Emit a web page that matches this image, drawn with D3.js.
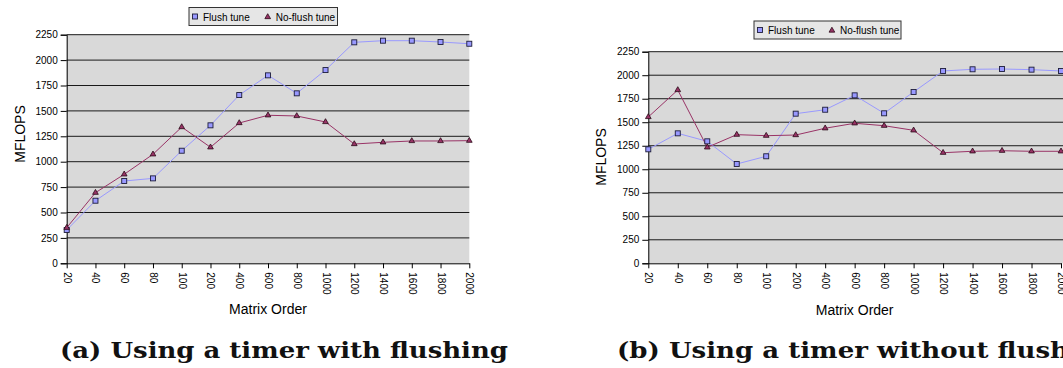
<!DOCTYPE html>
<html>
<head>
<meta charset="utf-8">
<script src="https://cdn.jsdelivr.net/npm/d3@7"></script>
<style>
  body { margin: 0; background: #fff; }
  svg { display: block; }
  text { font-family: "Liberation Sans", Arial, sans-serif; }
  text.caption { font-family: "DejaVu Serif", "Liberation Serif", serif; font-weight: bold; }
</style>
</head>
<body>
<svg id="chart" width="1063" height="368"></svg>
<script>
// matrix orders on the x axis
var categories = ["20", "40", "60", "80", "100", "200", "400", "600", "800", "1000", "1200", "1400", "1600", "1800", "2000"];
var yTicks = [0, 250, 500, 750, 1000, 1250, 1500, 1750, 2000, 2250];
var seriesNames = ["Flush tune", "No-flush tune"];

// (a) timer with flushing
var flushA = [328, 616, 810, 836, 1108, 1358, 1656, 1850, 1673, 1902, 2175, 2191, 2191, 2178, 2161];
var noFlushA = [350, 695, 876, 1073, 1341, 1142, 1381, 1457, 1450, 1391, 1174, 1191, 1204, 1204, 1207];

// (b) timer without flushing
var flushB = [1212, 1382, 1297, 1056, 1138, 1591, 1633, 1786, 1595, 1822, 2045, 2063, 2066, 2059, 2045];
var noFlushB = [1556, 1843, 1233, 1368, 1357, 1364, 1436, 1489, 1463, 1414, 1176, 1191, 1197, 1191, 1191];

var flushColor = "#9999ff";
var noFlushColor = "#993366";
var svg = d3.select("#chart");

//Draws one panel: plot area, grid, axes, two series, legend and caption
function drawPanel(cfg) {
    var x = d3.scalePoint()
        .domain(categories)
        .range([cfg.x0, cfg.x1])
        .padding(0);

    var y = d3.scaleLinear()
        .domain([0, 2250])
        .range([cfg.y0, cfg.y1]);

    var g = svg.append("g");

    g.append("rect")
        .attr("x", cfg.x0)
        .attr("y", y(2250))
        .attr("width", cfg.bgRight - cfg.x0)
        .attr("height", y(0) - y(2250))
        .attr("fill", "#d9d9d9");

    g.selectAll(".grid")
        .data(yTicks.slice(1))
        .enter().append("line")
        .attr("x1", cfg.x0)
        .attr("x2", cfg.bgRight)
        .attr("y1", function (d) { return y(d); })
        .attr("y2", function (d) { return y(d); })
        .attr("stroke", "#1a1a1a")
        .attr("stroke-width", 1);

    var yAxis = g.append("g")
        .attr("transform", "translate(" + cfg.x0 + ",0)")
        .call(d3.axisLeft(y).tickValues(yTicks).tickSize(6).tickPadding(3).tickFormat(d3.format("d")));
    yAxis.select(".domain").attr("stroke", "#000");
    yAxis.selectAll("text")
        .style("font-size", "10px")
        .attr("fill", "#000");

    var xAxis = g.append("g")
        .attr("transform", "translate(0," + cfg.y0 + ")")
        .call(d3.axisBottom(x).tickSize(5).tickSizeOuter(0));
    xAxis.select(".domain").attr("stroke", "#000");
    xAxis.selectAll("text")
        .style("font-size", "10px")
        .attr("fill", "#000")
        .attr("text-anchor", "start")
        .attr("transform", "rotate(90)")
        .attr("x", 9)
        .attr("y", 0)
        .attr("dy", "0.35em");

    var line = d3.line()
        .x(function (d, i) { return x(categories[i]); })
        .y(function (d) { return y(d); });

    g.append("path")
        .datum(cfg.flush)
        .attr("d", line)
        .attr("fill", "none")
        .attr("stroke", flushColor)
        .attr("stroke-width", 1);

    g.append("path")
        .datum(cfg.noFlush)
        .attr("d", line)
        .attr("fill", "none")
        .attr("stroke", noFlushColor)
        .attr("stroke-width", 1);

    g.selectAll(".sq")
        .data(cfg.flush)
        .enter().append("rect")
        .attr("x", function (d, i) { return x(categories[i]) - 2.5; })
        .attr("y", function (d) { return y(d) - 2.5; })
        .attr("width", 5)
        .attr("height", 5)
        .attr("fill", flushColor)
        .attr("stroke", "#1c1c3a")
        .attr("stroke-width", 0.9);

    var tri = d3.symbol().type(d3.symbolTriangle).size(14);
    g.selectAll(".tri")
        .data(cfg.noFlush)
        .enter().append("path")
        .attr("d", tri)
        .attr("transform", function (d, i) { return "translate(" + x(categories[i]) + "," + y(d) + ")"; })
        .attr("fill", noFlushColor)
        .attr("stroke", "#2a0a18")
        .attr("stroke-width", 0.8);

    g.append("text")
        .attr("transform", "translate(" + cfg.yLabelX + "," + cfg.yLabelY + ") rotate(-90)")
        .attr("text-anchor", "middle")
        .attr("dy", "0.35em")
        .style("font-size", "14px")
        .text("MFLOPS");

    g.append("text")
        .attr("x", (cfg.x0 + cfg.x1) / 2)
        .attr("y", cfg.xLabelY)
        .attr("text-anchor", "middle")
        .style("font-size", "14px")
        .text("Matrix Order");

    // legend
    var lg = g.append("g").attr("transform", "translate(" + cfg.legX + "," + cfg.legY + ")");
    lg.append("rect")
        .attr("width", cfg.legW)
        .attr("height", 18)
        .attr("fill", "#e6e6e6")
        .attr("stroke", "#333")
        .attr("stroke-width", 1);
    lg.append("rect")
        .attr("x", 3.5).attr("y", 6.5)
        .attr("width", 5).attr("height", 5)
        .attr("fill", flushColor)
        .attr("stroke", "#1c1c3a")
        .attr("stroke-width", 0.9);
    lg.append("text")
        .attr("x", 14).attr("y", 13)
        .style("font-size", "10px")
        .text(seriesNames[0]);
    lg.append("path")
        .attr("d", tri)
        .attr("transform", "translate(" + (cfg.legW * 0.53) + ",9.5)")
        .attr("fill", noFlushColor)
        .attr("stroke", "#2a0a18")
        .attr("stroke-width", 0.8);
    lg.append("text")
        .attr("x", cfg.legW * 0.53 + 8).attr("y", 13)
        .style("font-size", "10px")
        .text(seriesNames[1]);

    // caption is set wide, like the bold extended TeX face
    svg.append("text")
        .attr("class", "caption")
        .attr("x", cfg.capX)
        .attr("y", 358)
        .attr("textLength", cfg.capW)
        .attr("lengthAdjust", "spacingAndGlyphs")
        .style("font-size", "22px")
        .attr("fill", "#111")
        .text(cfg.caption);
}

drawPanel({
    x0: 66.7, x1: 469.3, bgRight: 469.3, y0: 263.3, y1: 34.7,
    flush: flushA, noFlush: noFlushA,
    yLabelX: 20, yLabelY: 134, xLabelY: 314,
    legX: 189, legY: 7.5, legW: 148.5,
    capX: 60, capW: 448, caption: "(a) Using a timer with flushing"
});

drawPanel({
    x0: 648.3, x1: 1061, bgRight: 1070, y0: 263.3, y1: 51.7,
    flush: flushB, noFlush: noFlushB,
    yLabelX: 601, yLabelY: 157, xLabelY: 315,
    legX: 754, legY: 21, legW: 147,
    capX: 617, capW: 499, caption: "(b) Using a timer without flushing"
});
</script>
</body>
</html>
